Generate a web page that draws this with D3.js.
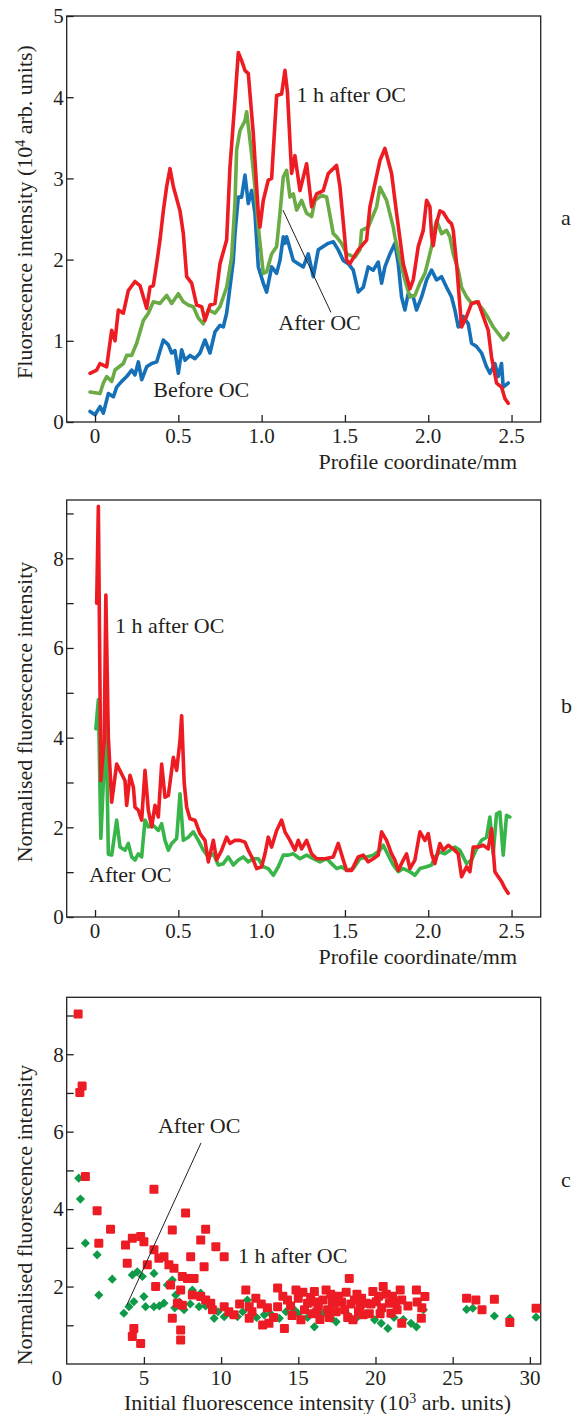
<!DOCTYPE html>
<html>
<head>
<meta charset="utf-8">
<script src="https://cdn.jsdelivr.net/npm/d3@7"></script>
<style>
  body { margin: 0; background: #fff; }
  text { font-family: "Liberation Serif", "Times New Roman", serif; fill: #231f20; }
  .tick-lbl { font-size: 21px; }
  .ttl { font-size: 22px; }
  .note { font-size: 22px; }
</style>
</head>
<body>
<script>
// ---- data ----
// panel a: fluorescence profiles, [mm, 10^4 arb. units]
let aBefore = [[-0.03,0.13],[0,0.09],[0.03,0.19],[0.05,0.11],[0.08,0.35],[0.11,0.31],[0.13,0.43],[0.16,0.5],[0.19,0.56],[0.22,0.64],[0.24,0.58],[0.26,0.74],[0.28,0.52],[0.31,0.68],[0.34,0.72],[0.37,0.74],[0.41,1.01],[0.44,0.95],[0.46,0.85],[0.48,0.88],[0.5,0.6],[0.52,0.89],[0.54,0.76],[0.57,0.82],[0.6,0.78],[0.63,0.85],[0.66,1.01],[0.69,0.85],[0.72,1.11],[0.75,1.19],[0.77,1.17],[0.79,1.34],[0.81,1.66],[0.83,1.99],[0.84,2.32],[0.86,2.77],[0.88,2.77],[0.9,3.04],[0.92,2.69],[0.94,2.85],[0.96,2.57],[0.97,2.24],[0.98,1.91],[1.01,1.71],[1.03,1.6],[1.06,1.91],[1.09,1.83],[1.11,1.99],[1.13,2.28],[1.14,2.2],[1.15,2.28],[1.19,1.99],[1.22,1.95],[1.25,1.91],[1.28,2.07],[1.31,1.79],[1.34,2.12],[1.37,2.16],[1.4,2.2],[1.43,2.22],[1.46,2.12],[1.49,1.99],[1.52,1.95],[1.55,1.87],[1.58,1.6],[1.61,1.66],[1.64,1.91],[1.67,1.87],[1.7,1.97],[1.72,1.71],[1.74,1.91],[1.77,2.07],[1.8,2.2],[1.82,1.95],[1.84,1.54],[1.86,1.38],[1.88,1.58],[1.91,1.54],[1.93,1.38],[1.96,1.54],[1.99,1.75],[2.02,1.87],[2.05,1.75],[2.08,1.79],[2.11,1.66],[2.14,1.54],[2.16,1.38],[2.18,1.17],[2.21,1.3],[2.24,1.21],[2.26,0.97],[2.29,0.93],[2.32,0.85],[2.35,0.68],[2.37,0.6],[2.4,0.72],[2.42,0.56],[2.44,0.72],[2.45,0.43],[2.48,0.48]];
let aAfter = [[-0.03,0.37],[0.03,0.35],[0.05,0.48],[0.07,0.56],[0.1,0.5],[0.12,0.64],[0.17,0.72],[0.19,0.82],[0.22,0.82],[0.25,0.97],[0.29,1.25],[0.32,1.34],[0.35,1.48],[0.39,1.46],[0.43,1.56],[0.46,1.46],[0.5,1.58],[0.53,1.48],[0.56,1.44],[0.59,1.42],[0.62,1.28],[0.65,1.21],[0.68,1.38],[0.72,1.34],[0.75,1.42],[0.79,1.66],[0.82,2.03],[0.84,2.7],[0.85,3.35],[0.87,3.59],[0.9,3.71],[0.91,3.82],[0.94,3.3],[0.96,2.89],[0.98,2.4],[1.01,1.83],[1.03,1.85],[1.06,2.07],[1.09,2.16],[1.11,2.57],[1.13,3.02],[1.15,3.1],[1.17,2.77],[1.19,2.81],[1.21,2.61],[1.24,2.73],[1.27,2.57],[1.3,2.53],[1.32,2.73],[1.36,2.79],[1.39,2.77],[1.43,2.32],[1.45,2.28],[1.48,2.2],[1.51,2.07],[1.56,2.03],[1.59,2.12],[1.6,2.36],[1.64,2.4],[1.69,2.65],[1.71,2.89],[1.75,2.73],[1.79,2.4],[1.8,2.28],[1.83,1.99],[1.86,1.75],[1.89,1.54],[1.92,1.56],[1.95,1.71],[1.98,1.83],[2,1.99],[2.02,2.16],[2.03,2.32],[2.05,2.48],[2.08,2.32],[2.11,2.36],[2.13,2.28],[2.15,2.07],[2.18,1.87],[2.2,1.66],[2.23,1.54],[2.26,1.46],[2.29,1.48],[2.33,1.38],[2.36,1.28],[2.39,1.17],[2.42,1.09],[2.45,1.01],[2.47,1.05],[2.48,1.09]];
let aOneHour = [[-0.03,0.6],[0.01,0.64],[0.03,0.72],[0.07,0.68],[0.1,1.13],[0.12,1.0],[0.14,1.38],[0.17,1.34],[0.2,1.62],[0.24,1.73],[0.27,1.68],[0.31,1.4],[0.33,1.66],[0.35,1.68],[0.37,1.95],[0.39,2.24],[0.41,2.6],[0.43,2.9],[0.45,3.12],[0.47,2.9],[0.51,2.6],[0.53,2.32],[0.55,1.79],[0.58,1.71],[0.61,1.44],[0.64,1.42],[0.66,1.25],[0.69,1.44],[0.72,1.46],[0.75,1.95],[0.79,2.24],[0.81,3.14],[0.84,3.96],[0.86,4.55],[0.88,4.45],[0.9,4.33],[0.92,4.29],[0.95,3.55],[0.98,2.57],[0.99,2.4],[1.01,2.73],[1.04,2.98],[1.06,3.0],[1.09,4.02],[1.12,4.04],[1.14,4.33],[1.155,4.06],[1.18,3.06],[1.2,3.28],[1.23,2.85],[1.27,3.18],[1.3,2.65],[1.33,2.81],[1.37,2.85],[1.4,3.06],[1.45,3.16],[1.47,2.9],[1.5,2.24],[1.51,1.99],[1.53,1.95],[1.58,2.12],[1.63,2.24],[1.65,2.65],[1.71,3.22],[1.74,3.37],[1.78,3.06],[1.81,2.57],[1.85,1.95],[1.89,1.64],[1.91,1.75],[1.94,2.16],[1.97,2.36],[1.99,2.73],[2.01,2.65],[2.02,2.3],[2.03,2.17],[2.05,2.45],[2.07,2.6],[2.09,2.58],[2.12,2.48],[2.14,2.44],[2.15,2.36],[2.17,1.95],[2.2,1.17],[2.23,1.3],[2.26,1.46],[2.3,1.48],[2.33,1.3],[2.36,1.13],[2.38,0.8],[2.41,0.48],[2.44,0.43],[2.46,0.29],[2.48,0.23]];

// panel b: normalised profiles, [mm, ratio]
let bAfter = [[0.005,4.2],[0.02,4.85],[0.035,1.75],[0.05,3.0],[0.065,4.7],[0.08,1.4],[0.1,1.38],[0.13,2.16],[0.15,1.56],[0.18,1.49],[0.2,1.64],[0.22,1.34],[0.24,1.27],[0.26,1.41],[0.28,1.34],[0.3,2.16],[0.32,2.01],[0.35,2.04],[0.38,1.93],[0.4,2.08],[0.42,1.71],[0.44,1.49],[0.46,1.64],[0.49,1.75],[0.51,2.75],[0.53,1.71],[0.56,1.78],[0.59,1.9],[0.62,1.71],[0.65,1.49],[0.68,1.34],[0.71,1.41],[0.74,1.16],[0.77,1.19],[0.8,1.34],[0.83,1.16],[0.86,1.27],[0.89,1.34],[0.92,1.23],[0.95,1.3],[0.98,1.3],[1.01,1.12],[1.04,1.08],[1.07,0.93],[1.1,1.12],[1.13,1.38],[1.16,1.38],[1.19,1.41],[1.23,1.3],[1.27,1.38],[1.31,1.3],[1.35,1.23],[1.39,1.3],[1.42,1.19],[1.45,1.08],[1.48,1.12],[1.51,1.04],[1.55,1.08],[1.59,1.3],[1.63,1.34],[1.67,1.38],[1.71,1.49],[1.73,1.6],[1.76,1.38],[1.79,1.16],[1.82,1.01],[1.85,1.08],[1.89,1.01],[1.92,0.93],[1.95,1.08],[1.99,1.12],[2.02,1.16],[2.04,1.34],[2.07,1.45],[2.1,1.41],[2.13,1.49],[2.16,1.56],[2.19,1.49],[2.21,1.34],[2.23,1.19],[2.26,1.27],[2.29,1.52],[2.32,1.71],[2.35,1.78],[2.37,2.23],[2.39,1.41],[2.41,2.3],[2.43,2.34],[2.45,1.38],[2.47,2.27],[2.49,2.23]];
let bOneHour = [[0.01,7.0],[0.02,9.16],[0.035,3.04],[0.055,3.93],[0.065,7.18],[0.08,4.0],[0.1,2.56],[0.13,3.41],[0.16,3.19],[0.18,3.04],[0.19,2.49],[0.21,3.16],[0.23,2.9],[0.24,2.45],[0.26,2.38],[0.28,2.16],[0.3,3.27],[0.32,2.38],[0.34,2.01],[0.36,2.49],[0.38,2.23],[0.4,3.41],[0.42,2.67],[0.44,2.71],[0.47,3.56],[0.49,3.27],[0.51,3.93],[0.52,4.49],[0.535,3.0],[0.55,2.45],[0.57,2.19],[0.6,2.16],[0.63,1.86],[0.66,1.71],[0.68,1.23],[0.71,1.71],[0.73,1.27],[0.76,1.49],[0.79,1.78],[0.81,1.64],[0.84,1.71],[0.87,1.71],[0.9,1.67],[0.92,1.49],[0.95,1.27],[0.97,1.08],[1.0,1.12],[1.02,1.41],[1.04,1.78],[1.06,1.56],[1.09,1.93],[1.12,2.16],[1.14,1.9],[1.17,1.71],[1.2,1.49],[1.22,1.71],[1.24,1.52],[1.27,1.71],[1.3,1.41],[1.33,1.3],[1.38,1.3],[1.43,1.34],[1.46,1.64],[1.49,1.27],[1.51,1.04],[1.54,1.04],[1.58,1.34],[1.61,1.38],[1.64,1.23],[1.67,1.3],[1.7,1.38],[1.72,1.9],[1.75,1.71],[1.78,1.41],[1.8,1.27],[1.82,1.04],[1.85,1.27],[1.87,1.41],[1.89,1.08],[1.92,1.27],[1.95,1.9],[1.98,1.71],[2.0,1.86],[2.02,1.41],[2.04,1.19],[2.07,1.64],[2.09,1.49],[2.12,1.6],[2.15,1.52],[2.18,1.41],[2.2,0.9],[2.23,1.12],[2.25,1.01],[2.27,1.56],[2.3,1.56],[2.33,1.6],[2.36,1.52],[2.38,1.97],[2.4,1.01],[2.42,0.9],[2.44,0.79],[2.46,0.64],[2.48,0.53]];

// panel c: normalised vs initial intensity, [10^3 arb. units, ratio]
let cAfter = [[0.78,4.8],[0.89,4.26],[1.21,3.12],[1.97,2.82],[2.08,1.78],[2.95,2.19],[3.7,1.31],[4.03,1.48],[4.35,1.61],[4.25,2.3],[4.57,2.38],[4.9,2.26],[5.0,1.74],[5.65,2.34],[5.11,1.48],[5.65,1.48],[6.0,1.5],[6.3,1.57],[6.52,2.04],[6.84,2.17],[7.0,1.45],[7.06,1.78],[7.3,1.6],[7.6,1.4],[8.0,1.55],[8.14,1.91],[8.57,1.48],[8.68,1.83],[9.0,1.5],[9.55,1.18],[9.8,1.35],[10.2,1.22],[10.6,1.3],[11.06,1.22],[11.4,1.35],[11.7,1.65],[12.3,1.2],[12.8,1.27],[13.2,1.3],[13.77,1.18],[14.2,1.35],[14.74,1.4],[15.0,1.3],[15.6,1.2],[16.04,0.96],[16.6,1.3],[17.13,1.18],[17.45,1.09],[18.2,1.27],[18.8,1.2],[19.4,1.3],[19.94,1.14],[20.37,1.05],[20.8,0.92],[21.2,1.2],[21.8,1.15],[22.3,1.05],[22.65,0.96],[23.1,1.4],[25.9,1.41],[26.3,1.44],[27.7,1.24],[28.7,1.18],[30.4,1.21]];
let cOneHour = [[0.74,9.04],[0.85,7.01],[1.0,7.18],[1.21,4.84],[1.97,3.96],[2.08,3.12],[2.84,3.48],[3.81,3.07],[3.92,2.6],[4.25,3.25],[4.79,3.29],[5.0,3.16],[5.22,2.56],[5.65,4.51],[5.65,2.95],[5.97,2.73],[6.3,2.77],[5.76,2.0],[4.35,0.92],[4.25,0.71],[4.79,0.53],[6.84,3.46],[7.7,3.9],[9.0,3.48],[8.68,3.2],[9.66,3.03],[10.2,2.77],[8.03,2.77],[8.9,2.51],[6.62,2.56],[6.95,2.47],[7.49,2.26],[7.82,2.21],[8.25,2.21],[6.73,2.04],[7.38,1.91],[7.17,1.57],[7.49,1.52],[8.14,1.78],[8.68,1.74],[9.0,1.65],[9.33,1.57],[9.44,1.4],[10.2,1.48],[6.84,1.18],[7.38,0.88],[7.38,0.62],[10.84,1.27],[11.6,1.91],[11.82,1.48],[12.0,1.35],[12.25,1.7],[11.82,1.18],[12.69,1.01],[13.0,1.45],[13.1,1.05],[13.66,1.96],[13.66,1.48],[14.1,0.92],[14.3,1.65],[14.5,1.5],[14.85,1.91],[15.0,1.7],[15.17,1.14],[15.4,1.4],[15.6,1.57],[15.9,1.3],[16.04,1.87],[16.3,1.5],[16.4,1.15],[16.6,1.65],[16.8,1.91],[16.9,1.4],[17.1,1.8],[17.34,1.57],[17.45,1.35],[17.8,1.6],[18.0,1.4],[18.2,1.2],[18.3,2.21],[18.54,1.14],[18.64,1.65],[18.8,1.8],[19.0,1.5],[19.2,1.27],[19.4,1.57],[19.6,1.3],[19.83,1.87],[20.05,1.61],[20.3,1.3],[20.5,2.0],[20.7,1.8],[20.9,1.57],[21.0,1.31],[21.3,1.6],[21.6,1.91],[21.7,1.65],[21.7,1.05],[22.65,1.91],[22.97,1.18],[23.2,1.74],[25.9,1.7],[26.5,1.65],[26.9,1.4],[27.7,1.67],[28.7,1.07],[30.4,1.44],
    [14.0,1.75],[14.6,1.25],[15.3,1.85],[15.8,1.72],[16.2,1.35],[17.0,1.2],[17.6,1.75],[18.1,1.85],[18.4,1.55],[18.9,1.35],[19.1,1.7],[19.7,1.55],[20.2,1.75],[20.4,1.45],[21.1,1.75],[21.4,1.4],[22.1,1.5],[22.7,1.6],[23.0,1.45],[17.2,1.6],[16.1,1.6],[12.6,1.55],[13.4,1.2],[10.5,1.35],[11.2,1.55]];

// tick values
let profileTicks = [0, 0.5, 1.0, 1.5, 2.0, 2.5];
let aYTicks = [0, 1, 2, 3, 4, 5];
let normTicks = [0, 2, 4, 6, 8];
let normMinor = [1, 3, 5, 7, 9];
let initTicks = [5, 10, 15, 20, 25, 30];

// ---- layout ----
let width = 572, height = 1414;
let left = 66.7, right = 540.7;
const red = '#ed1c24', blue = '#1470b8', greenA = '#6aab45', greenB = '#39b54a', greenC = '#0f9a48';

let svg = d3.select('body').append('svg')
    .attr('width', width).attr('height', height);

let defs = svg.append('defs');
defs.append('filter').attr('id', 'soft')
    .append('feGaussianBlur').attr('stdDeviation', 0.5);

function frame(top, bottom) {
    let g = svg.append('g');
    g.append('rect').attr('x', left).attr('y', top)
        .attr('width', right - left).attr('height', bottom - top)
        .attr('fill', 'none').attr('stroke', '#231f20').attr('stroke-width', 1.3);
    return g;
}

function yAxis(g, y, ticks, minor, fmt) {
    let ax = d3.axisRight(y).tickValues(ticks.concat(minor || [])).tickSize(7).tickFormat('');
    g.append('g').attr('transform', `translate(${left},0)`).call(ax)
        .call(s => s.select('.domain').remove())
        .selectAll('line').attr('stroke', '#231f20').attr('stroke-width', 1.3);
    g.selectAll(null).data(ticks).join('text')
        .attr('class', 'tick-lbl')
        .attr('x', left - 3).attr('y', d => y(d)).attr('dy', '0.35em')
        .attr('text-anchor', 'end').text(fmt);
}

function xAxis(g, x, bottom, ticks, fmt, off) {
    g.append('g').attr('transform', `translate(0,${bottom})`)
        .call(d3.axisTop(x).tickValues(ticks).tickSize(7).tickFormat(''))
        .call(s => s.select('.domain').remove())
        .selectAll('line').attr('stroke', '#231f20').attr('stroke-width', 1.3);
    g.selectAll(null).data(ticks).join('text')
        .attr('class', 'tick-lbl')
        .attr('x', d => x(d)).attr('y', bottom + off)
        .attr('text-anchor', 'middle').text(fmt);
}

function addParts(t, parts) {
    parts.forEach(p => {
        let s = t.append('tspan').text(p.t);
        if (p.sup) s.attr('baseline-shift', 'super').style('font-size', '14px');
    });
}

function yTitle(g, cy, parts) {
    let t = g.append('text').attr('class', 'ttl')
        .attr('transform', `translate(32,${cy}) rotate(-90)`)
        .attr('text-anchor', 'middle');
    addParts(t, parts);
}

function xTitle(g, xr, yb, parts) {
    let t = g.append('text').attr('class', 'ttl')
        .attr('x', xr).attr('y', yb).attr('text-anchor', 'end');
    addParts(t, parts);
}

function profile(g, x, y, data, color) {
    let line = d3.line().x(d => x(d[0])).y(d => y(d[1]));
    g.append('path').datum(data)
        .attr('d', line)
        .attr('fill', 'none')
        .attr('stroke', color)
        .attr('stroke-width', 3.6)
        .attr('stroke-linejoin', 'round')
        .attr('stroke-linecap', 'round')
        .attr('filter', 'url(#soft)');
}

function note(g, x, y, pos, txt) {
    g.append('text').attr('class', 'note')
        .attr('x', x(pos[0])).attr('y', y(pos[1])).text(txt);
}

function leader(g, x, y, a, b) {
    g.append('line')
        .attr('x1', x(a[0])).attr('y1', y(a[1]))
        .attr('x2', x(b[0])).attr('y2', y(b[1]))
        .attr('stroke', '#231f20').attr('stroke-width', 1);
}

const fmtProfile = d => d === 0 ? '0' : d.toFixed(1);

// ---- panel a ----
{
    let top = 16, bottom = 422;
    let x = d3.scaleLinear().domain([-0.17, 2.675]).range([left, right]);
    let y = d3.scaleLinear().domain([0, 5]).range([bottom, top]);
    let g = frame(top, bottom);
    profile(g, x, y, aBefore, blue);
    profile(g, x, y, aAfter, greenA);
    profile(g, x, y, aOneHour, red);
    yAxis(g, y, aYTicks, null, d => d);
    xAxis(g, x, bottom, profileTicks, fmtProfile, 21);
    yTitle(g, 212, [{t: 'Fluorescence intensity (10'}, {t: '4', sup: true}, {t: ' arb. units)'}]);
    xTitle(g, 517, 469, [{t: 'Profile coordinate/mm'}]);
    note(g, x, y, [1.21, 3.94], '1 h after OC');
    note(g, x, y, [0.35, 0.31], 'Before OC');
    note(g, x, y, [1.1, 1.13], 'After OC');
    leader(g, x, y, [1.128, 2.61], [1.416, 1.35]);
    g.append('text').attr('class', 'note').attr('x', 561).attr('y', 225).text('a');
}

// ---- panel b ----
{
    let top = 500, bottom = 917;
    let x = d3.scaleLinear().domain([-0.17, 2.675]).range([left, right]);
    let y = d3.scaleLinear().domain([0, 9.3]).range([bottom, top]);
    let g = frame(top, bottom);
    profile(g, x, y, bAfter, greenB);
    profile(g, x, y, bOneHour, red);
    yAxis(g, y, normTicks, normMinor, d => d);
    xAxis(g, x, bottom, profileTicks, fmtProfile, 21);
    yTitle(g, 712, [{t: 'Normalised fluorescence intensity'}]);
    xTitle(g, 517, 964, [{t: 'Profile coordinate/mm'}]);
    note(g, x, y, [0.12, 6.33], '1 h after OC');
    note(g, x, y, [-0.036, 0.79], 'After OC');
    g.append('text').attr('class', 'note').attr('x', 561).attr('y', 713).text('b');
}

// ---- panel c ----
{
    let top = 997.3, bottom = 1364;
    let x = d3.scaleLinear().domain([0, 30.7]).range([left, right]);
    let y = d3.scaleLinear().domain([0, 9.47]).range([bottom, top]);
    let g = frame(top, bottom);

    g.selectAll('path.dia').data(cAfter).join('path')
        .attr('class', 'dia')
        .attr('d', d3.symbol(d3.symbolSquare, 42))
        .attr('transform', d => `translate(${x(d[0])},${y(d[1])}) rotate(45)`)
        .attr('fill', greenC);
    g.selectAll('rect.sq').data(cOneHour).join('rect')
        .attr('class', 'sq')
        .attr('x', d => x(d[0]) - 4.5).attr('y', d => y(d[1]) - 4.5)
        .attr('width', 9).attr('height', 9).attr('rx', 1.2)
        .attr('fill', red);

    yAxis(g, y, normTicks.filter(d => d > 0), normMinor, d => d);
    xAxis(g, x, bottom, initTicks, d => d, 21);
    g.append('text').attr('class', 'tick-lbl').attr('x', 57).attr('y', bottom + 21)
        .attr('text-anchor', 'middle').text('0');
    yTitle(g, 1215, [{t: 'Normalised fluorescence intensity'}]);
    xTitle(g, 511, 1410, [{t: 'Initial fluorescence intensity (10'}, {t: '3', sup: true}, {t: ' arb. units)'}]);
    note(g, x, y, [5.91, 5.97], 'After OC');
    note(g, x, y, [11.1, 2.61], '1 h after OC');
    leader(g, x, y, [8.7, 5.71], [3.89, 1.52]);
    g.append('text').attr('class', 'note').attr('x', 561).attr('y', 1187).text('c');
}
</script>
</body>
</html>
